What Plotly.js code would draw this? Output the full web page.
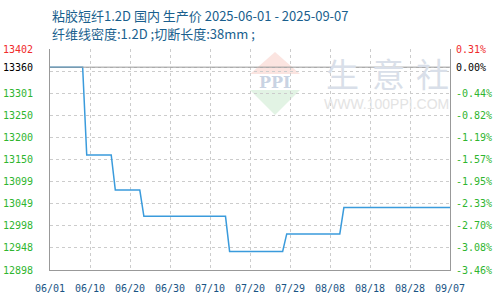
<!DOCTYPE html>
<html>
<head>
<meta charset="utf-8">
<script src="https://cdn.plot.ly/plotly-3.0.1.min.js"></script>
<style>html,body{margin:0;padding:0;background:#fff}#chart{width:500px;height:300px}</style>
</head>
<body>
<div id="chart"></div>
<script>
// ---- data ----
const dates = ['2025-06-01','2025-06-09','2025-06-10','2025-06-16','2025-06-17','2025-06-23','2025-06-24','2025-07-14','2025-07-15','2025-07-28','2025-07-29','2025-08-11','2025-08-12','2025-09-07'];
const prices = [13360,13360,13160,13160,13080,13080,13020,13020,12940,12940,12980,12980,13040,13040];
const basePrice = 13360;
const xTickLabels = ['06/01','06/10','06/20','06/30','07/10','07/20','07/29','08/08','08/18','08/28','09/07'];
const leftTickLabels = ['13402','','13301','13250','13200','13150','13099','13049','12998','12948','12898'];
const rightTickLabels = ['0.31%','','-0.44%','-0.82%','-1.19%','-1.57%','-1.95%','-2.33%','-2.70%','-3.08%','-3.46%'];
const topPct = 0.31, bottomPct = -3.46;
const titleText = '粘胶短纤1.2D 国内 生产价 2025-06-01 - 2025-09-07';
const subtitleText = '纤维线密度:1.2D ;切断长度:38mm ;';

// ---- scales ----
const yTop = basePrice * (1 + topPct / 100);
const yBot = basePrice * (1 + bottomPct / 100);
const nGrid = 10;
const gridVals = [];
for (let k = 0; k <= nGrid; k++) gridVals.push(yTop + k * (yBot - yTop) / nGrid);

const RED = '#f02b2b', GREEN = '#2fb52f', BLACK = '#000000';
function colorFor(i){ return i === 0 ? RED : GREEN; }
const leftVals = gridVals.concat([basePrice]);
const leftText = leftTickLabels.map((t,i)=> t ? `<span style="color:${colorFor(i)}">${t}</span>` : '').concat([`<span style="color:${BLACK}">${basePrice}</span>`]);
const rightText = rightTickLabels.map((t,i)=> t ? `<span style="color:${colorFor(i)}">${t}</span>` : '').concat([`<span style="color:${BLACK}">0.00%</span>`]);

const toMs = s => { const [y,m,d] = s.split('-').map(Number); return Date.UTC(y, m-1, d); };
const x0 = toMs(dates[0]), x1 = toMs(dates[dates.length-1]);
const xTickVals = xTickLabels.map((_,k)=> x0 + k * (x1 - x0) / (xTickLabels.length - 1));

const tickFont = {family: 'DejaVu Sans Mono, monospace', size: 10};

const traces = [
  {x: dates, y: prices, type: 'scatter', mode: 'lines', line: {color: '#3a9bdc', width: 1.5}, hoverinfo: 'skip', showlegend: false},
  {x: dates, y: prices, type: 'scatter', mode: 'lines', yaxis: 'y2', line: {color: 'rgba(0,0,0,0)', width: 0}, hoverinfo: 'skip', showlegend: false}
];

const wmFont = {family: 'Noto Sans CJK SC, sans-serif', size: 33, color: '#d9dfe9'};
const layout = {
  width: 500, height: 300,
  margin: {l: 50, r: 50, t: 49, b: 30},
  paper_bgcolor: '#ffffff', plot_bgcolor: '#ffffff',
  showlegend: false,
  xaxis: {
    type: 'date', range: [x0, x1], tickmode: 'array', tickvals: xTickVals, ticktext: xTickLabels,
    showgrid: true, gridcolor: '#cccccc', griddash: '3px,3px', gridwidth: 1,
    showline: true, linecolor: '#999999', linewidth: 1, ticks: '', zeroline: false,
    tickfont: Object.assign({color: '#1a5484'}, tickFont), ticklabelstandoff: 9, fixedrange: true
  },
  yaxis: {
    range: [yBot, yTop], tickmode: 'array', tickvals: leftVals, ticktext: leftText,
    showgrid: true, gridcolor: '#cccccc', griddash: '3px,3px', gridwidth: 1,
    showline: true, linecolor: '#999999', linewidth: 1, ticks: '', zeroline: false,
    tickfont: tickFont, ticklabelstandoff: 14, fixedrange: true
  },
  yaxis2: {
    overlaying: 'y', side: 'right', range: [yBot, yTop], tickmode: 'array', tickvals: leftVals, ticktext: rightText,
    showgrid: false, showline: true, linecolor: '#999999', linewidth: 1, ticks: '', zeroline: false,
    tickfont: tickFont, ticklabelstandoff: 3, fixedrange: true
  },
  shapes: [
    {type: 'line', xref: 'paper', x0: 0, x1: 1, yref: 'y', y0: basePrice, y1: basePrice, line: {color: '#999999', width: 1}, layer: 'above'},
    // watermark logo
    {type: 'path', xref: 'paper', yref: 'paper', path: 'M 0.5625 0.986 L 0.5 0.887 L 0.625 0.887 Z', fillcolor: '#fbe4e0', line: {width: 0}, layer: 'below'},
    {type: 'path', xref: 'paper', yref: 'paper', path: 'M 0.5 0.814 L 0.625 0.814 L 0.5625 0.701 Z', fillcolor: '#e2f3e4', line: {width: 0}, layer: 'below'}
  ],
  annotations: [
    {xref: 'paper', yref: 'paper', x: 0, y: 1 + (49 - 15) / 221, xanchor: 'left', yanchor: 'middle', showarrow: false, text: titleText, font: {family: 'Noto Sans CJK SC, sans-serif', size: 13, color: '#1a5f8e'}},
    {xref: 'paper', yref: 'paper', x: 0, y: 1 + (49 - 33) / 221, xanchor: 'left', yanchor: 'middle', showarrow: false, text: subtitleText, font: {family: 'Noto Sans CJK SC, sans-serif', size: 13, color: '#1a5f8e'}},
    {xref: 'paper', yref: 'paper', x: (275 - 50) / 400, y: (270 - 82) / 221, xanchor: 'center', yanchor: 'middle', showarrow: false, text: '<b>PPI</b>', font: {family: 'DejaVu Serif, serif', size: 16, color: '#c9d3e3'}},
    {xref: 'paper', yref: 'paper', x: (342 - 50) / 400, y: (270 - 73) / 221, xanchor: 'center', yanchor: 'middle', showarrow: false, text: '生', font: wmFont},
    {xref: 'paper', yref: 'paper', x: (388 - 50) / 400, y: (270 - 73) / 221, xanchor: 'center', yanchor: 'middle', showarrow: false, text: '意', font: wmFont},
    {xref: 'paper', yref: 'paper', x: (432 - 50) / 400, y: (270 - 73) / 221, xanchor: 'center', yanchor: 'middle', showarrow: false, text: '社', font: wmFont},
    {xref: 'paper', yref: 'paper', x: (386 - 50) / 400, y: (270 - 104) / 221, xanchor: 'center', yanchor: 'middle', showarrow: false, text: 'WWW.100PPI.COM', font: {family: 'Liberation Sans, Arial, sans-serif', size: 14, color: '#e3e3e3'}}
  ]
};

Plotly.newPlot('chart', traces, layout, {staticPlot: true, displayModeBar: false});
</script>
</body>
</html>
